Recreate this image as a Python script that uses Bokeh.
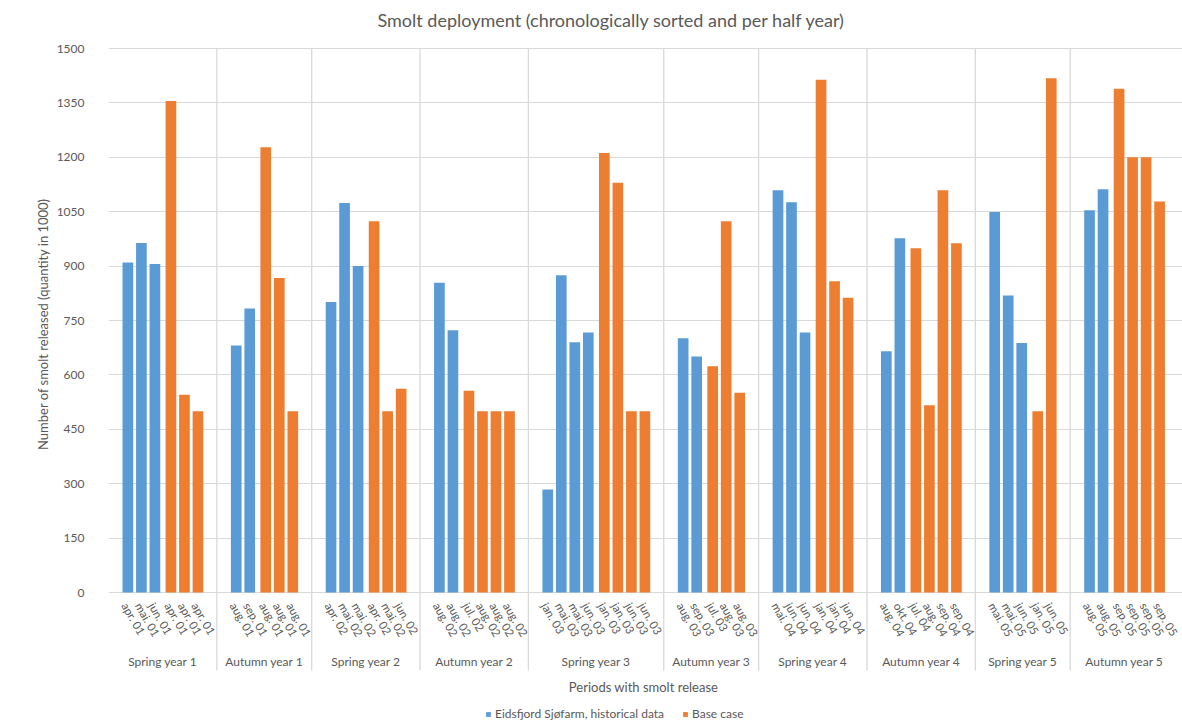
from bokeh.plotting import figure
from bokeh.models import Range1d, FixedTicker, Label, Legend, LegendItem, ColumnDataSource, Title
from bokeh.core.properties import value
from bokeh.embed import file_html
from bokeh.resources import INLINE

# ---------------- data ----------------
group_names = ["Spring year 1", "Autumn year 1", "Spring year 2", "Autumn year 2", "Spring year 3",
               "Autumn year 3", "Spring year 4", "Autumn year 4", "Spring year 5", "Autumn year 5"]

hist_months = [
    ["apr. 01", "mai. 01", "jun. 01"],
    ["aug. 01", "sep. 01"],
    ["apr. 02", "mai. 02", "mai. 02"],
    ["aug. 02", "aug. 02"],
    ["jan. 03", "mai. 03", "mai. 03", "jun. 03"],
    ["aug. 03", "sep. 03"],
    ["mai. 04", "jun. 04", "jun. 04"],
    ["aug. 04", "okt. 04"],
    ["mai. 05", "mai. 05", "jun. 05"],
    ["aug. 05", "aug. 05"],
]
hist_values = [
    [910, 964, 906],
    [681, 783],
    [801, 1074, 900],
    [854, 723],
    [284, 875, 690, 717],
    [701, 651],
    [1109, 1076, 717],
    [665, 977],
    [1049, 819, 688],
    [1054, 1112],
]
base_months = [
    ["apr. 01", "apr. 01", "apr. 01"],
    ["aug. 01", "aug. 01", "aug. 01"],
    ["apr. 02", "mai. 02", "jun. 02"],
    ["jul. 02", "aug. 02", "aug. 02", "aug. 02"],
    ["jan. 03", "jan. 03", "jun. 03", "jun. 03"],
    ["jul. 03", "aug. 03", "aug. 03"],
    ["jan. 04", "jan. 04", "jun. 04"],
    ["jul. 04", "aug. 04", "sep. 04", "sep. 04"],
    ["jan. 05", "jun. 05"],
    ["sep. 05", "sep. 05", "sep. 05", "sep. 05"],
]
base_values = [
    [1355, 545, 500],
    [1228, 867, 500],
    [1024, 500, 562],
    [556, 500, 500, 500],
    [1212, 1130, 500, 500],
    [624, 1024, 551],
    [1414, 858, 813],
    [949, 516, 1109, 963],
    [500, 1418],
    [1389, 1200, 1200, 1078],
]
y_ticks = list(range(0, 1501, 150))

series_names = ["Eidsfjord Sjøfarm, historical data", "Base case"]
title_text = "Smolt deployment (chronologically sorted and per half year)"
x_title = "Periods with smolt release"
y_title = "Number of smolt released (quantity in 1000)"

# ---------------- layout constants ----------------
BLUE = "#5B9BD5"
ORANGE = "#ED7D31"
GRID = "#D9D9D9"
TEXT = "#595959"
FONT = "Lato"

W, H = 1182, 724
FRAME_L, PLOT_R = 108, 1178
Y0_PX, YTOP_PX = 592, 48
PAD = 1.433     # group start -> first bar centre (category units)
GAP = 0.185     # extra gap between the two series in a group
EXTRA = 2.015   # group width = n + EXTRA
BAR_W = 0.79

# ---------------- positions ----------------
hx, ht, bx, bt = [], [], [], []
cat_x, cat_t = [], []
g_center, seps = [], []
pos = 0.0
for g in range(len(group_names)):
    nh, nb = len(hist_values[g]), len(base_values[g])
    start = pos
    for i in range(nh):
        xi = start + PAD + i
        hx.append(xi); ht.append(hist_values[g][i])
        cat_x.append(xi); cat_t.append(hist_months[g][i])
    for j in range(nb):
        xj = start + PAD + nh + j + GAP
        bx.append(xj); bt.append(base_values[g][j])
        cat_x.append(xj); cat_t.append(base_months[g][j])
    end = start + nh + nb + EXTRA
    g_center.append((start + end) / 2)
    if g < len(group_names) - 1:
        seps.append(end)
    pos = end
total = pos

ppu = (PLOT_R - FRAME_L) / total          # px per category unit
k = y_ticks[-1] / (Y0_PX - YTOP_PX)       # data units per px (vertical)


def dx(px):
    return (px - FRAME_L) / ppu


def dy(py):
    return (Y0_PX - py) * k


p = figure(width=W, height=H, output_backend="svg", toolbar_location=None,
           x_range=Range1d(0, dx(W)), y_range=Range1d(dy(H), dy(0)),
           x_axis_location=None, min_border_left=FRAME_L, min_border_right=0,
           min_border_top=0, min_border_bottom=0)
p.outline_line_color = None
p.background_fill_color = "white"
p.border_fill_color = "white"
p.xgrid.visible = False
p.ygrid.ticker = FixedTicker(ticks=y_ticks)
p.ygrid.grid_line_color = GRID
p.ygrid.grid_line_width = 1

ya = p.yaxis[0]
ya.ticker = FixedTicker(ticks=y_ticks)
ya.axis_line_color = None
ya.major_tick_line_color = None
ya.minor_tick_line_color = None
ya.major_label_standoff = 18
ya.major_label_text_font = FONT
ya.major_label_text_font_size = "12px"
ya.major_label_text_color = TEXT

# y-axis title as a left-side title panel, positioned along the value area
Y_TITLE_LEN = 259
p.add_layout(Title(text=y_title, align="left", offset=H - (320 + Y_TITLE_LEN / 2),
                   text_font=FONT, text_font_size="13px", text_color=TEXT,
                   text_font_style="normal", standoff=6), "left")

# separators between half-year groups
p.segment(x0=seps, x1=seps, y0=[dy(670)] * len(seps), y1=[y_ticks[-1]] * len(seps),
          line_color=GRID, line_width=1.3)

r1 = p.vbar(source=ColumnDataSource(dict(x=hx, top=ht)), x="x", top="top", bottom=0,
            width=BAR_W, fill_color=BLUE, line_color=None)
r2 = p.vbar(source=ColumnDataSource(dict(x=bx, top=bt)), x="x", top="top", bottom=0,
            width=BAR_W, fill_color=ORANGE, line_color=None)

# category labels
p.text(x=cat_x, y=[dy(603)] * len(cat_x), text=cat_t, angle=-60, angle_units="deg",
       x_offset=-3, text_font=value(FONT), text_font_size="11.5px", text_color=TEXT,
       text_align="left", text_baseline="middle")
# group labels
p.text(x=g_center, y=[dy(661)] * len(g_center), text=group_names,
       text_font=value(FONT), text_font_size="12px", text_color=TEXT,
       text_align="center", text_baseline="middle")

p.add_layout(Label(x=dx(611), y=dy(19), text=title_text, text_font=FONT,
                   text_font_size="18px", text_color=TEXT, text_align="center",
                   text_baseline="middle"))
p.add_layout(Label(x=dx(643), y=dy(686), text=x_title, text_font=FONT,
                   text_font_size="13px", text_color=TEXT, text_align="center",
                   text_baseline="middle"))

legend = Legend(items=[LegendItem(label=series_names[0], renderers=[r1]),
                       LegendItem(label=series_names[1], renderers=[r2])],
                orientation="horizontal", location=(377, 3),
                glyph_width=6, glyph_height=6, label_height=12, label_standoff=4,
                spacing=18, padding=0, margin=0,
                label_text_font=FONT, label_text_font_size="12px",
                label_text_color=TEXT, border_line_color=None,
                background_fill_alpha=0)
p.add_layout(legend)

open("out.html", "w").write(file_html(p, INLINE))
